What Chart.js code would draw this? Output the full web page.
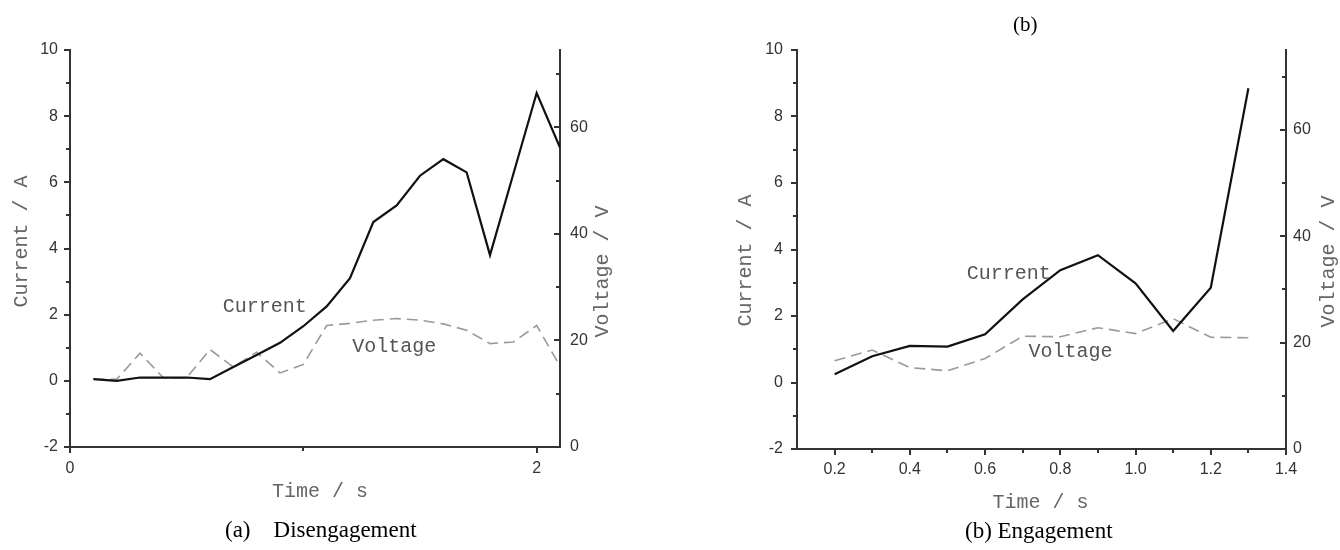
<!DOCTYPE html>
<html><head><meta charset="utf-8">
<script src="https://cdn.jsdelivr.net/npm/chart.js@4/dist/chart.umd.min.js"></script>
<style>
html,body{margin:0;padding:0;background:#fff;width:1340px;height:550px;overflow:hidden;position:relative}
canvas{position:absolute;top:0}
#cA{left:0}
#cB{left:670px}
.cap{position:absolute;font-family:"Liberation Serif","Times New Roman",serif;font-size:23px;line-height:23px;color:#000;white-space:pre}
</style></head><body>
<canvas id="cA" width="670" height="550"></canvas>
<canvas id="cB" width="670" height="550"></canvas>
<div class="cap" style="left:1013px;top:14px;font-size:21px;line-height:21px">(b)</div>
<div class="cap" style="left:225px;top:518px">(a)    Disengagement</div>
<div class="cap" style="left:965px;top:519px">(b) Engagement</div>
<script>
// ---- (a) Disengagement ----
const disTime    = [0.1, 0.2, 0.3, 0.4, 0.5, 0.6, 0.7, 0.8, 0.9, 1.0, 1.1, 1.2, 1.3, 1.4, 1.5, 1.6, 1.7, 1.8, 1.9, 2.0, 2.1];
const disCurrent = [0.05, 0.0, 0.1, 0.1, 0.1, 0.05, 0.42, 0.78, 1.15, 1.65, 2.25, 3.1, 4.8, 5.3, 6.2, 6.7, 6.3, 3.8, 6.25, 8.7, 7.05];
const disVoltage = [12.7, 12.7, 17.6, 13.0, 13.0, 18.3, 15.0, 17.8, 13.9, 15.5, 22.8, 23.2, 23.8, 24.1, 23.8, 23.1, 21.9, 19.4, 19.7, 22.8, 15.2];
const disXTicks  = [0, 2];
const disXMinor  = [1];
const disYTicks  = [-2, 0, 2, 4, 6, 8, 10];
const disYMinor  = [-1, 1, 3, 5, 7, 9];
const disVTicks  = [0, 20, 40, 60];
const disVMinor  = [10, 30, 50, 70];

// ---- (b) Engagement ----
const engTime    = [0.2, 0.3, 0.4, 0.5, 0.6, 0.7, 0.8, 0.9, 1.0, 1.1, 1.2, 1.3];
const engCurrent = [0.25, 0.79, 1.1, 1.08, 1.45, 2.5, 3.38, 3.83, 2.98, 1.55, 2.85, 8.85];
const engVoltage = [16.6, 18.6, 15.3, 14.7, 17.0, 21.2, 21.1, 22.8, 21.7, 24.5, 21.0, 20.9];
const engXTicks  = [0.2, 0.4, 0.6, 0.8, 1.0, 1.2, 1.4];
const engXMinor  = [0.3, 0.5, 0.7, 0.9, 1.1, 1.3];
const engYTicks  = [-2, 0, 2, 4, 6, 8, 10];
const engYMinor  = [-1, 1, 3, 5, 7, 9];
const engVTicks  = [0, 20, 40, 60];
const engVMinor  = [10, 30, 50, 70];

const MONO = '"Liberation Mono", "Courier New", monospace';
const AXIS = '#333';

const decor = {
  id: 'decor',
  afterDraw(chart, args, o) {
    const ctx = chart.ctx, ca = chart.chartArea;
    ctx.save();
    ctx.strokeStyle = AXIS;
    ctx.lineWidth = 2;
    for (const t of o.ticks) {
      const s = chart.scales[t.id];
      const list = s.ticks.map(k => [k.value, 6]).concat(t.minor.map(v => [v, 4]));
      for (const [v, len] of list) {
        const p = Math.round(s.getPixelForValue(v));
        ctx.beginPath();
        if (t.side === 'left') { ctx.moveTo(ca.left - len, p); ctx.lineTo(ca.left, p); }
        else if (t.side === 'right') { ctx.moveTo(ca.right - len, p); ctx.lineTo(ca.right, p); }
        else { ctx.moveTo(p, ca.bottom); ctx.lineTo(p, ca.bottom + len); }
        ctx.stroke();
      }
    }
    ctx.font = '20px ' + MONO;
    ctx.fillStyle = '#555';
    ctx.textAlign = 'center';
    ctx.textBaseline = 'middle';
    for (const l of o.labels) {
      ctx.fillText(l.text, chart.scales.x.getPixelForValue(l.x), chart.scales.y.getPixelForValue(l.y));
    }
    const cx = (ca.left + ca.right) / 2, cy = (ca.top + ca.bottom) / 2;
    const T = o.titles;
    ctx.fillStyle = '#666';
    ctx.fillText(T.x.text, cx + T.x.dx, ca.bottom + T.x.dy);
    ctx.save();
    ctx.translate(ca.left + T.y.dx, cy + T.y.dy);
    ctx.rotate(-Math.PI / 2);
    ctx.fillText(T.y.text, 0, 0);
    ctx.restore();
    ctx.save();
    ctx.translate(ca.right + T.y2.dx, cy + T.y2.dy);
    ctx.rotate(-Math.PI / 2);
    ctx.fillText(T.y2.text, 0, 0);
    ctx.restore();
    ctx.restore();
  }
};

function makeChart(id, c) {
  const tickFont = {family: '"Liberation Sans", Arial, sans-serif', size: 16};
  const gridOff = {drawOnChartArea: false, drawTicks: false};
  const border = {display: true, color: AXIS, width: 2};
  return new Chart(document.getElementById(id), {
    type: 'line',
    data: {
      datasets: [
        {label: 'Current', data: c.time.map((t, i) => ({x: t, y: c.current[i]})),
         borderColor: '#111', borderWidth: 2.2, pointRadius: 0, tension: 0, yAxisID: 'y', xAxisID: 'x'},
        {label: 'Voltage', data: c.time.map((t, i) => ({x: t, y: c.voltage[i]})),
         borderColor: '#9a9a9a', borderWidth: 1.6, borderDash: [11, 6], pointRadius: 0, tension: 0, yAxisID: 'y2', xAxisID: 'x'}
      ]
    },
    options: {
      responsive: false, animation: false, events: [],
      layout: {padding: {top: c.top, left: 0, right: 0, bottom: 0}},
      plugins: {
        legend: {display: false}, tooltip: {enabled: false},
        decor: {
          ticks: [
            {id: 'x', side: 'bottom', minor: c.xMinor},
            {id: 'y', side: 'left', minor: c.yMinor},
            {id: 'y2', side: 'right', minor: c.vMinor}
          ],
          labels: c.labels,
          titles: c.titles
        }
      },
      scales: {
        x: {type: 'linear', position: 'bottom', min: c.xMin, max: c.xMax,
            afterBuildTicks: s => { s.ticks = c.xTicks.map(v => ({value: v})); },
            afterFit: s => { s.height = c.xH; },
            ticks: {padding: c.xPad, font: tickFont, color: '#333', maxRotation: 0, autoSkip: false, callback: c.xFmt},
            grid: gridOff, border: border},
        y: {type: 'linear', position: 'left', min: -2, max: 10,
            afterBuildTicks: s => { s.ticks = c.yTicks.map(v => ({value: v})); },
            afterFit: s => { s.width = c.yW; },
            ticks: {padding: c.yPad, font: tickFont, color: '#333', autoSkip: false},
            grid: gridOff, border: border},
        y2: {type: 'linear', position: 'right', min: 0, max: c.vMax,
            afterBuildTicks: s => { s.ticks = c.vTicks.map(v => ({value: v})); },
            afterFit: s => { s.width = c.y2W; },
            ticks: {padding: c.y2Pad, font: tickFont, color: '#333', autoSkip: false},
            grid: gridOff, border: border}
      }
    },
    plugins: [decor]
  });
}

makeChart('cA', {
  time: disTime, current: disCurrent, voltage: disVoltage,
  xTicks: disXTicks, xMinor: disXMinor, yTicks: disYTicks, yMinor: disYMinor, vTicks: disVTicks, vMinor: disVMinor,
  xMin: 0, xMax: 2.1, vMax: 74.5, xFmt: v => String(v),
  top: 50, xH: 103, yW: 70, y2W: 110, xPad: 12, yPad: 12, y2Pad: 10,
  labels: [{text: 'Current', x: 0.835, y: 2.23}, {text: 'Voltage', x: 1.39, y: 1.03}],
  titles: {x: {text: 'Time / s', dx: 5, dy: 45}, y: {text: 'Current / A', dx: -48, dy: -7}, y2: {text: 'Voltage / V', dx: 43, dy: 23}}
});

makeChart('cB', {
  time: engTime, current: engCurrent, voltage: engVoltage,
  xTicks: engXTicks, xMinor: engXMinor, yTicks: engYTicks, yMinor: engYMinor, vTicks: engVTicks, vMinor: engVMinor,
  xMin: 0.1, xMax: 1.4, vMax: 75, xFmt: v => v.toFixed(1),
  top: 50, xH: 101, yW: 127, y2W: 54, xPad: 11, yPad: 14, y2Pad: 7,
  labels: [{text: 'Current', x: 0.663, y: 3.26}, {text: 'Voltage', x: 0.827, y: 0.92}],
  titles: {x: {text: 'Time / s', dx: -1, dy: 54}, y: {text: 'Current / A', dx: -51, dy: 11}, y2: {text: 'Voltage / V', dx: 43, dy: 12}}
});
</script>
</body></html>
